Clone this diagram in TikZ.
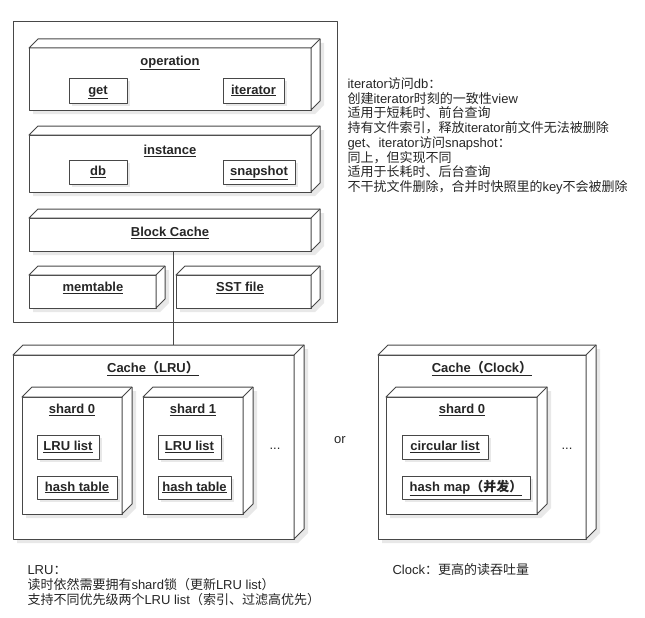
\documentclass[tikz,border=0pt]{standalone}
\usepackage{fontspec}
\setmainfont{Liberation Sans}
\newfontfamily\cjk{Noto Sans CJK SC}
\usetikzlibrary{calc,shadows}
\newcommand\zh[1]{{\cjk #1}}
\newcommand\cube[6]{% name x1 y1 x2 y2 depth
  \pgfmathsetmacro\bw{#4-#2}\pgfmathsetmacro\bh{#5-#3}%
  \fill[shade] (#2+4,#3+4) -- (#2+#6+4,#3-#6+4) -- (#4+#6+4,#3-#6+4) -- (#4+#6+4,#5-#6+4) -- (#4+4,#5+4) -- (#2+4,#5+4) -- cycle;
  \node[front, minimum width=\bw pt, minimum height=\bh pt] (#1) at (#2,#3) {};
  \draw[lc, fill=white] (#1.north west) -- ++(#6,-#6) -- ($(#1.north east)+(#6,-#6)$) -- ($(#1.south east)+(#6,-#6)$) -- (#1.south east) -- (#1.north east) -- cycle;
  \draw[lc] (#1.north east) -- ++(#6,-#6);
}
\newcommand\sbx[6]{% name x1 y1 x2 y2 text
  \pgfmathsetmacro\bw{#4-#2}\pgfmathsetmacro\bh{#5-#3}%
  \fill[shade] (#2+3,#3+3) rectangle (#4+3,#5+3);
  \node[front, lbl, minimum width=\bw pt, minimum height=\bh pt] (#1) at (#2,#3) {\underline{#6}};
}
\begin{document}
\begin{tikzpicture}[x=1pt,y=-1pt, line width=1pt, line join=round,
  lc/.style={draw=black!72},
  shade/.style={fill=black!9},
  front/.style={draw=black!72, fill=white, inner sep=0pt, outer sep=0pt, anchor=north west},
  lbl/.style={font=\fontsize{13}{15}\selectfont\bfseries, text=black!85, text height=9.5pt, text depth=2.5pt},
  title/.style={lbl, inner sep=0pt},
  note/.style={font=\fontsize{13}{15}\selectfont, text=black!85, inner sep=0pt, anchor=base west}]
\useasboundingbox[fill=white] (0,0) rectangle (645,618);

% outer frame
\node[front, minimum width=324pt, minimum height=300pt] (frame) at (13,22) {};

% operation
\cube{op}{29}{48}{311}{110}{9}
\node[title] (opl) at (170,62) {\underline{operation}};
\sbx{get}{69}{78}{127}{103}{get}
\sbx{it}{223}{78}{284}{103}{iterator}

% instance
\cube{inst}{29}{135}{311}{192}{9}
\node[title] (instl) at (170,151) {\underline{instance}};
\sbx{db}{69}{160}{127}{184}{db}
\sbx{snap}{223}{160}{295}{184}{snapshot}

% block cache
\cube{bc}{29}{218}{311}{251}{9}
\node[title] (bcl) at (170,233) {\underline{Block Cache}};

% memtable / SST
\cube{mem}{29}{275}{156}{308}{9}
\node[title] (meml) at (93,288) {\underline{memtable}};
\cube{sst}{176}{275}{311}{308}{9}
\node[title] (sstl) at (240,288) {\underline{SST file}};

% Cache LRU
\cube{lru}{13}{355}{294}{539}{10}
\node[title] (lrul) at (153,369) {\underline{Cache{\cjk\bfseries （}LRU{\cjk\bfseries ）}}};
\cube{s0}{22}{397}{122}{514}{10}
\node[title] (s0l) at (72,410) {\underline{shard 0}};
\sbx{l0}{37}{435}{99}{459}{LRU list}
\sbx{h0}{37}{476}{117}{499}{hash table}
\cube{s1}{143}{397}{243}{514}{10}
\node[title] (s1l) at (193,410) {\underline{shard 1}};
\sbx{l1}{158}{435}{221}{459}{LRU list}
\sbx{h1}{158}{476}{231}{499}{hash table}
\node[note, anchor=center] (dots1) at (275,449) {...};

% connector
\coordinate (ct) at ($(bc.south)+(3,0)$);
\coordinate (lt) at ($(lru.north west)+(10,-10)$);
\draw[lc] (ct) -- (ct |- lt);

\node[note, anchor=center] (or) at (340,440) {or};

% Cache Clock
\cube{clk}{378}{355}{586}{539}{10}
\node[title] (clkl) at (482,369) {\underline{Cache{\cjk\bfseries （}Clock{\cjk\bfseries ）}}};
\cube{cs0}{386}{397}{537}{514}{10}
\node[title] (cs0l) at (462,410) {\underline{shard 0}};
\sbx{cl}{402}{435}{488}{459}{circular list}
\sbx{hm}{402}{476}{530}{499}{hash map{\cjk\bfseries （并发）}}
\node[note, anchor=center] (dots2) at (567,449) {...};

% notes right
\node[note] (n1) at (347,88.5) {iterator\zh{访问}db\zh{：}};
\node[note] (n2) at (347,103.2) {\zh{创建}iterator\zh{时刻的一致性}view};
\node[note] (n3) at (347,117.9) {\zh{适用于短耗时、前台查询}};
\node[note] (n4) at (347,132.6) {\zh{持有文件索引，释放}iterator\zh{前文件无法被删除}};
\node[note] (n5) at (347,147.3) {get\zh{、}iterator\zh{访问}snapshot\zh{：}};
\node[note] (n6) at (347,162) {\zh{同上，但实现不同}};
\node[note] (n7) at (347,176.7) {\zh{适用于长耗时、后台查询}};
\node[note] (n8) at (347,191.4) {\zh{不干扰文件删除，合并时快照里的}key\zh{不会被删除}};

% notes bottom
\node[note] (b1) at (27,574) {LRU\zh{：}};
\node[note] (b2) at (27,589) {\zh{读时依然需要拥有}shard\zh{锁（更新}LRU list\zh{）}};
\node[note] (b3) at (27,604) {\zh{支持不同优先级两个}LRU list\zh{（索引、过滤高优先）}};
\node[note] (c1) at (392,574) {Clock\zh{：更高的读吞吐量}};
\end{tikzpicture}
\end{document}
